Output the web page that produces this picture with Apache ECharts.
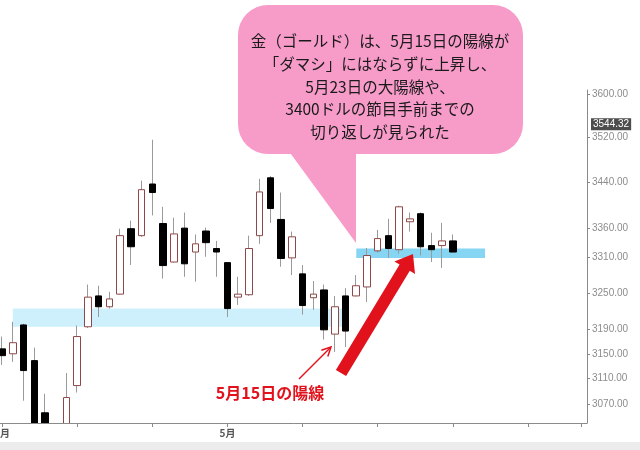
<!DOCTYPE html>
<html><head><meta charset="utf-8">
<script src="https://cdn.jsdelivr.net/npm/echarts@6/dist/echarts.min.js"></script>
<style>html,body{margin:0;padding:0;background:#fff}#c{width:640px;height:450px}</style>
</head><body><div id="c"></div>
<script>
const categories = ['4/1','4/2','4/3','4/4','4/7','4/8','4/9','4/10','4/11','4/14','4/15','4/16','4/17','4/21','4/22','4/23','4/24','4/25','4/28','4/29','4/30',
  '5/1','5/2','5/5','5/6','5/7','5/8','5/9','5/12','5/13','5/14','5/15','5/16','5/19','5/20','5/21','5/22','5/23','5/26','5/27','5/28','5/29','5/30',
  '6/2','6/3','6/4','6/5','6/6','6/9','6/10','6/11','6/12','6/13','6/16','6/17'];
const opens  = [3158,3150,3197,3139,3056,3028,3026,3099,3194,3245,3227,3248,3359,3347,3437,3368,3302,3360,3319,3355,3325,3301,3243,3247,3347,3448,3375,3309,3282,3242,3255,3182,3245,3245,3260,3321,3347,3323,3371,3385,3330,3330,3338];
const closes = [3147,3168,3123,3030,3028,3026,3080,3178,3243,3227,3240,3347,3328,3427,3422,3296,3350,3299,3333,3335,3319,3224,3248,3325,3423,3394,3308,3345,3229,3248,3189,3227,3187,3262,3313,3342,3325,3397,3376,3328,3323,3338,3319];
const lows   = [3132,3137,3075,3012,3002,3005,3018,3088,3192,3210,3224,3247,3297,3345,3382,3274,3301,3277,3269,3311,3277,3210,3230,3245,3333,3369,3294,3280,3214,3222,3173,3153,3161,3244,3235,3318,3309,3316,3354,3313,3302,3292,3318];
const highs  = [3178,3202,3199,3160,3086,3036,3119,3196,3264,3262,3252,3359,3373,3443,3516,3397,3378,3387,3349,3361,3338,3302,3277,3347,3446,3451,3422,3354,3297,3270,3264,3245,3258,3280,3326,3357,3376,3399,3387,3387,3352,3369,3349];
const monthTickSlots  = [0, 21];
const monthTickLabels = ['4月', '5月'];
const priceTicks = [3070, 3110, 3150, 3190, 3250, 3310, 3360, 3440, 3520, 3600];
const lastPrice = 3544.32;
const zoneStart = [1, 33];
const zoneEnd   = [32, 45];
const zoneLow   = [3194, 3309];
const zoneHigh  = [3224, 3325];
const zoneColors = ['#cdf0fc', '#86d6f3'];
const calloutLines = ['金（ゴールド）は、5月15日の陽線が', '「ダマシ」にはならずに上昇し、', '5月23日の大陽線や、', '3400ドルの節目手前までの', '切り返しが見られた'];
const arrowLabel = '5月15日の陽線';

const wickData = opens.map((o, i) => [o, closes[i], lows[i], highs[i]]);
const bodyData = opens.map((o, i) => [o, closes[i], Math.min(o, closes[i]), Math.max(o, closes[i])]);

const chart = echarts.init(document.getElementById('c'), null, {renderer: 'canvas'});
const red = '#e2121c';
chart.setOption({
  animation: false,
  backgroundColor: '#fff',
  grid: {left: -3.3, right: 53, top: 90, bottom: 27, containLabel: false, outerBoundsMode: 'none'},
  xAxis: {
    type: 'category', data: categories, boundaryGap: true, z: 10,
    axisLine: {show: true, lineStyle: {color: '#8a8a8a', width: 1}},
    axisTick: {show: true, alignWithLabel: true, interval: 6, length: 4, lineStyle: {color: '#8a8a8a'}},
    axisLabel: {interval: 0, margin: 5, color: '#555', fontSize: 10, fontWeight: 'bold',
      fontFamily: 'Noto Sans CJK JP',
      formatter: (v, i) => { const k = monthTickSlots.indexOf(i); return k >= 0 ? monthTickLabels[k] : ''; }},
    splitLine: {show: false}
  },
  yAxis: {
    type: 'log', logBase: 10, min: 3040, max: 3607, position: 'right', z: 10,
    axisLine: {show: true, lineStyle: {color: '#8a8a8a', width: 1}},
    axisTick: {show: true, length: 3, customValues: priceTicks, lineStyle: {color: '#8a8a8a'}},
    axisLabel: {customValues: priceTicks, margin: 5, color: '#8c8c8c', fontSize: 10, fontFamily: 'Liberation Sans',
      formatter: v => Number(v).toFixed(2)},
    splitLine: {show: false}
  },
  series: [
    {
      type: 'candlestick', data: wickData, z: 2, barWidth: 1, clip: true,
      itemStyle: {color: '#9a9a9a', color0: '#9a9a9a', borderColor: '#9a9a9a', borderColor0: '#9a9a9a', borderWidth: 1},
      markArea: {silent: true, z: 1, data: zoneStart.map((s, i) => [
        {xAxis: s, yAxis: zoneLow[i], itemStyle: {color: zoneColors[i]}},
        {xAxis: zoneEnd[i], yAxis: zoneHigh[i]}
      ])},
      markLine: {silent: true, symbol: 'none', z: 12,
        lineStyle: {color: 'rgba(0,0,0,0)', width: 0},
        data: [{yAxis: lastPrice}],
        label: {show: true, position: 'end', distance: 4, formatter: lastPrice.toFixed(2),
          color: '#fff', backgroundColor: '#4d4d4d', padding: [1, 2], fontSize: 10, fontFamily: 'Liberation Sans'}}
    },
    {
      type: 'candlestick', data: bodyData, z: 3, barWidth: 7, clip: true,
      itemStyle: {color: '#ffffff', color0: '#000000', borderColor: '#8e4848', borderColor0: '#000000', borderWidth: 1}
    }
  ],
  graphic: [
    {type: 'rect', z: 5, shape: {x: -10, y: 424, width: 597, height: 18}, style: {fill: '#ffffff'}},
    {type: 'rect', z: 5, shape: {x: 0, y: 442, width: 640, height: 8}, style: {fill: '#ececec'}},
    {type: 'rect', z: 20, shape: {x: 238, y: 5, width: 285, height: 149, r: 30}, style: {fill: '#f79bc9'}},
    {type: 'polygon', z: 20, shape: {points: [[288, 150], [356, 150], [356, 243]]}, style: {fill: '#f79bc9'}},
    {type: 'text', z: 21, x: 380, y: 30, style: {text: calloutLines.join('\n'), fill: '#1a1a1a',
      font: '15.5px "Noto Sans CJK JP"', lineHeight: 22.7, align: 'center', verticalAlign: 'top'}},
    {type: 'polygon', z: 20, shape: {points: [[335.9,369.9],[399.6,264.6],[394.4,261.5],[413,254],[415,273.9],[409.8,270.8],[346.1,376.1]]},
      style: {fill: red}},
    {type: 'line', z: 20, shape: {x1: 299, y1: 379, x2: 330.5, y2: 347.5}, style: {stroke: red, lineWidth: 1.5}},
    {type: 'polyline', z: 20, shape: {points: [[321.4,350.2],[331,347],[327.8,356.6]]}, style: {stroke: red, lineWidth: 1.5, fill: null}},
    {type: 'text', z: 21, x: 270, y: 393, style: {text: arrowLabel, fill: red, font: 'bold 16px "Noto Sans CJK JP"', align: 'center', verticalAlign: 'middle'}}
  ]
});
</script></body></html>
